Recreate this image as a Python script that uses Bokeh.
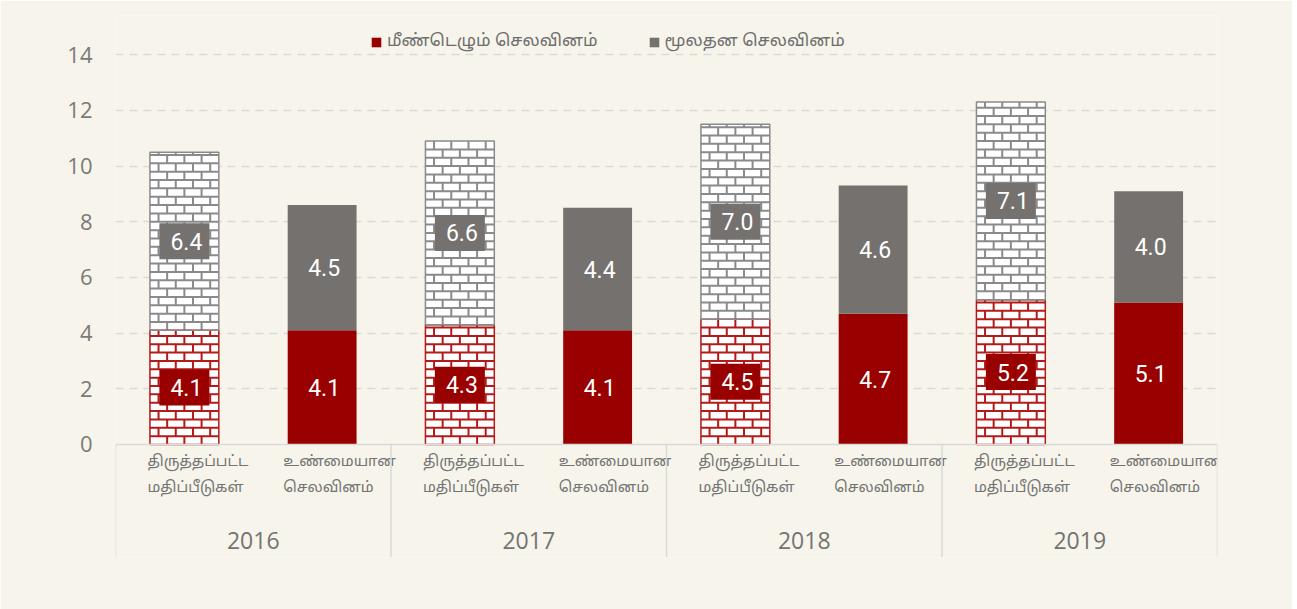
from bokeh.plotting import figure
from bokeh.models import (FactorRange, Range1d, FixedTicker, Span, Legend, LegendItem,
                          ColumnDataSource)
from bokeh.core.properties import value
from bokeh.embed import file_html
from bokeh.resources import INLINE

# ---------------- data ----------------
years = ["2016", "2017", "2018", "2019"]
kind_keys = ["rev", "act"]
kind_labels = ["திருத்தப்பட்ட\nமதிப்பீடுகள்", "உண்மையான\nசெலவினம்"]
revised_recurrent = [4.1, 4.3, 4.5, 5.2]
revised_capital = [6.4, 6.6, 7.0, 7.1]
actual_recurrent = [4.1, 4.1, 4.7, 5.1]
actual_capital = [4.5, 4.4, 4.6, 4.0]
legend_labels = ["மீண்டெழும் செலவினம்", "மூலதன செலவினம்"]
y_ticks = [0, 2, 4, 6, 8, 10, 12, 14]

# ---------------- style ----------------
BG = "#F7F5EB"
RED = "#990000"
GREY = "#75716F"
RED_MORTAR = "#B31A1A"
GREY_MORTAR = "#8A8A8A"
TXT = "#737373"
GRID = "#D9D9D9"
TAMIL_FONT = "'Noto Sans Tamil', 'Noto Sans Tamil UI', 'Lohit Tamil', 'Noto Sans'"
BAR_W = 0.5
ROW = 0.3      # brick row height (y units)
BRICK = 0.125  # brick length (x units)
Y_MIN, Y_MAX = -4.06, 15.41

factors = [(y, k) for y in years for k in kind_keys]

p = figure(x_range=FactorRange(*factors, group_padding=0, factor_padding=0, range_padding=0),
           y_range=Range1d(Y_MIN, Y_MAX),
           width=1292, height=609, output_backend="svg", toolbar_location=None,
           x_axis_location=None, min_border_left=115, min_border_right=75,
           min_border_top=15, min_border_bottom=52)
p.background_fill_color = BG
p.border_fill_color = BG
p.outline_line_color = None

p.yaxis.ticker = FixedTicker(ticks=y_ticks)
p.yaxis.axis_line_color = None
p.yaxis.major_tick_line_color = None
p.yaxis.major_tick_out = 0
p.yaxis.major_tick_in = 0
p.yaxis.minor_tick_line_color = None
p.yaxis.major_label_standoff = 23
p.yaxis.major_label_text_font = "Open Sans"
p.yaxis.major_label_text_font_size = "22px"
p.yaxis.major_label_text_color = "#7A7A7A"
p.ygrid.ticker = FixedTicker(ticks=y_ticks[1:])
p.ygrid.grid_line_color = GRID
p.ygrid.grid_line_dash = "8 6"
p.ygrid.grid_line_width = 1.5
p.xgrid.visible = False

p.add_layout(Span(location=0, dimension="width", line_color=GRID, line_width=1.5))

rev_x = [(y, "rev") for y in years]
act_x = [(y, "act") for y in years]
rev_total = [a + b for a, b in zip(revised_recurrent, revised_capital)]
act_total = [a + b for a, b in zip(actual_recurrent, actual_capital)]


def brick_source(bottoms, tops):
    """Mortar lines of a brick texture filling each revised bar segment."""
    half = BAR_W / 2
    x0, x1, y0, y1 = [], [], [], []
    for yr, b, t in zip(years, bottoms, tops):
        k = 0
        yk = b
        while yk < t - 1e-6:
            ytop = min(yk + ROW, t)
            if k > 0:
                x0.append([yr, "rev", -half]); x1.append([yr, "rev", half])
                y0.append(yk); y1.append(yk)
            off = -half + (BRICK / 2 if k % 2 else BRICK)
            while off < half - 1e-6:
                x0.append([yr, "rev", off]); x1.append([yr, "rev", off])
                y0.append(yk); y1.append(ytop)
                off += BRICK
            yk += ROW
            k += 1
    return ColumnDataSource(dict(x0=x0, x1=x1, y0=y0, y1=y1))


# revised (brick textured) bars
p.vbar(x=rev_x, bottom=0, top=revised_recurrent, width=BAR_W, fill_color="white", line_color=None)
p.vbar(x=rev_x, bottom=revised_recurrent, top=rev_total, width=BAR_W, fill_color="white", line_color=None)
p.segment(x0="x0", x1="x1", y0="y0", y1="y1", source=brick_source([0] * 4, revised_recurrent),
          line_color=RED_MORTAR, line_width=2)
p.segment(x0="x0", x1="x1", y0="y0", y1="y1", source=brick_source(revised_recurrent, rev_total),
          line_color=GREY_MORTAR, line_width=2)
p.vbar(x=rev_x, bottom=0, top=revised_recurrent, width=BAR_W, fill_color=None,
       line_color=RED_MORTAR, line_width=1.5)
p.vbar(x=rev_x, bottom=revised_recurrent, top=rev_total, width=BAR_W, fill_color=None,
       line_color=GREY_MORTAR, line_width=1.5)

# actual (solid) bars
r_red = p.vbar(x=act_x, bottom=0, top=actual_recurrent, width=BAR_W, fill_color=RED, line_color=None)
r_grey = p.vbar(x=act_x, bottom=actual_recurrent, top=act_total, width=BAR_W, fill_color=GREY, line_color=None)

# label boxes on revised bars
rev_red_mid = [v / 2 for v in revised_recurrent]
rev_grey_mid = [a + b / 2 for a, b in zip(revised_recurrent, revised_capital)]
act_red_mid = [v / 2 for v in actual_recurrent]
act_grey_mid = [a + b / 2 for a, b in zip(actual_recurrent, actual_capital)]

p.rect(x=rev_x, y=rev_red_mid, width=50, height=36, width_units="screen", height_units="screen",
       fill_color=RED, line_color=None)
p.rect(x=rev_x, y=rev_grey_mid, width=50, height=36, width_units="screen", height_units="screen",
       fill_color=GREY, line_color=None)

lab_kw = dict(text_align="center", text_baseline="middle", text_color="white",
              text_font=value("Roboto"), text_font_size="23px", x_offset=2)
p.text(x=rev_x, y=rev_red_mid, text=[f"{v:.1f}" for v in revised_recurrent], **lab_kw)
p.text(x=rev_x, y=rev_grey_mid, text=[f"{v:.1f}" for v in revised_capital], **lab_kw)
p.text(x=act_x, y=act_red_mid, text=[f"{v:.1f}" for v in actual_recurrent], **lab_kw)
p.text(x=act_x, y=act_grey_mid, text=[f"{v:.1f}" for v in actual_capital], **lab_kw)

# category labels below axis
cat_kw = dict(text_align="left", text_baseline="top", text_color=TXT,
              text_font=value(TAMIL_FONT), text_font_size="15px", text_line_height=1.4)
p.text(x=rev_x, y=[-0.3] * len(rev_x), text=[kind_labels[0]] * len(rev_x), x_offset=-37, **cat_kw)
p.text(x=act_x, y=[-0.3] * len(act_x), text=[kind_labels[1]] * len(act_x), x_offset=-39, **cat_kw)
p.text(x=years, y=[-3.45] * len(years), text=years, text_align="center", text_baseline="middle",
       text_color=TXT, text_font=value("Open Sans"), text_font_size="23px")

# group separators
sep_x = [[y, "rev", -0.5] for y in years] + [[years[-1], "act", 0.5]]
sep_src = ColumnDataSource(dict(x=sep_x, y0=[0] * len(sep_x), y1=[Y_MIN] * len(sep_x)))
p.segment(x0="x", x1="x", y0="y0", y1="y1", source=sep_src, line_color=GRID, line_width=1.5)

legend = Legend(items=[LegendItem(label=legend_labels[0], renderers=[r_red]),
                       LegendItem(label=legend_labels[1], renderers=[r_grey])],
                orientation="horizontal", location=(255, 505), padding=0, margin=0,
                spacing=50, label_standoff=5, glyph_width=12, glyph_height=12,
                label_text_font=TAMIL_FONT, label_text_font_size="17px",
                label_text_color="#6E6E6E", background_fill_alpha=0, border_line_alpha=0)
p.add_layout(legend)

open("out.html", "w").write(file_html(p, INLINE))
